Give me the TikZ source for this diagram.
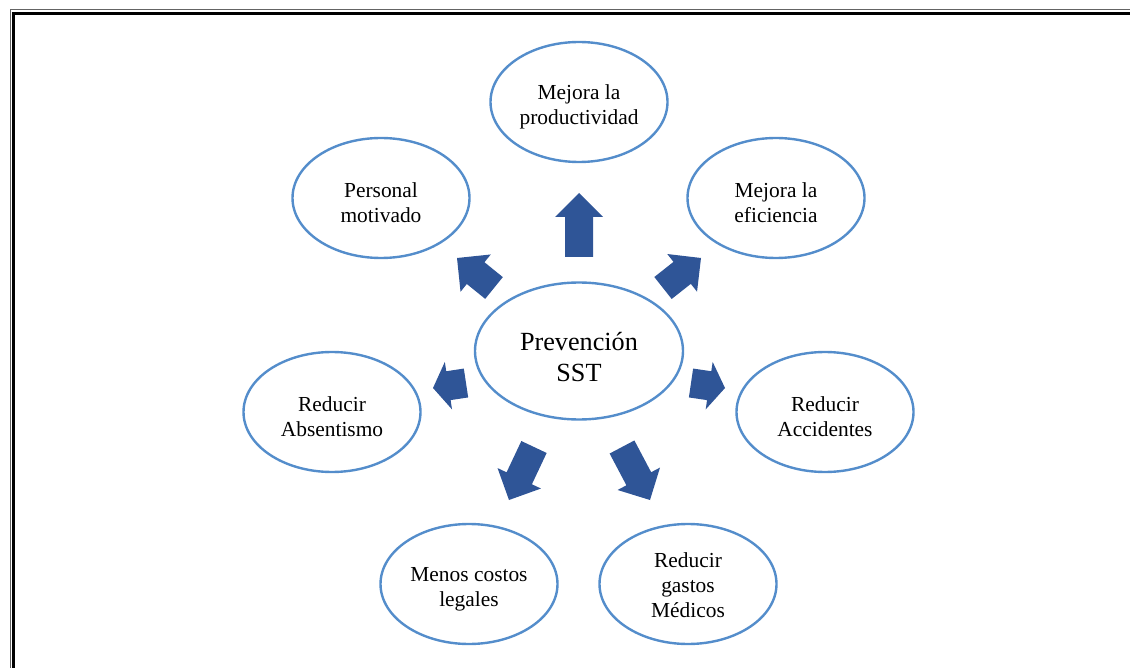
\documentclass[tikz,border=0pt]{standalone}
\usepackage{fontspec}
\setmainfont{Liberation Serif}
\usetikzlibrary{shapes.geometric,calc}
\definecolor{ringblue}{RGB}{84,141,203}
\definecolor{arrowblue}{RGB}{47,85,151}
\definecolor{framegray}{RGB}{100,100,100}
% block arrow: tail, tip, shaft half-width, head half-width, head length
\newcommand\blockarrow[5]{%
  \coordinate (hb) at ($(#2)!#5!(#1)$);
  \fill[arrowblue] ($(#1)!#3!90:(#2)$) -- ($(hb)!#3!-90:(#1)$) -- ($(hb)!#4!-90:(#1)$)
    -- (#2) -- ($(hb)!#4!90:(#1)$) -- ($(hb)!#3!90:(#1)$) -- ($(#1)!#3!-90:(#2)$) -- cycle;
}
\tikzset{
  ring/.style={ellipse, draw=ringblue, line width=1.2pt, inner sep=0pt,
    minimum width=88.5pt, minimum height=60pt},
  hub/.style={ring, minimum width=104pt, minimum height=68.5pt},
  txt/.style={inner sep=0pt, align=center, font=\fontsize{10.7}{12.5}\selectfont},
  hubtxt/.style={txt, font=\fontsize{13.1}{15.5}\selectfont}
}
\begin{document}
\begin{tikzpicture}[x=0.5pt, y=-0.5pt]
\useasboundingbox (0,0) rectangle (1130,668);
% double page frame
\draw[framegray, line width=0.5pt] (10,700) -- (10,10) -- (1160,10);
\draw[black, line width=1.5pt] (13.5,700) -- (13.5,13.5) -- (1160,13.5);

% ellipses
\node[hub] (c) at (579,351) {};
\node[ring] (prod) at (579,102) {};
\node[ring] (efic) at (776,198) {};
\node[ring] (moti) at (381,198) {};
\node[ring] (acci) at (825,412) {};
\node[ring] (abse) at (332,412) {};
\node[ring] (lega) at (469,584) {};
\node[ring] (medi) at (688,584) {};

% their texts
\node[hubtxt] (c-t) at ([yshift=-3pt]c.center) {Prevención\\SST};
\node[txt] (prod-t) at ([yshift=-2.5pt]prod.center) {Mejora la\\productividad};
\node[txt] (efic-t) at ([yshift=-2.5pt]efic.center) {Mejora la\\eficiencia};
\node[txt] (moti-t) at ([yshift=-2.5pt]moti.center) {Personal\\motivado};
\node[txt] (acci-t) at ([yshift=-2.5pt]acci.center) {Reducir\\Accidentes};
\node[txt] (abse-t) at ([yshift=-2.5pt]abse.center) {Reducir\\Absentismo};
\node[txt] (lega-t) at ([yshift=-2.5pt]lega.center) {Menos costos\\legales};
\node[txt] (medi-t) at ([yshift=-0.5pt]medi.center) {Reducir\\gastos\\Médicos};

% arrow ends
\coordinate (t1) at (579,257); \coordinate (h1) at (579,193);
\coordinate (t2) at (494,288); \coordinate (h2) at (457,258);
\coordinate (t3) at (663,288); \coordinate (h3) at (701,258);
\coordinate (t4) at (466,383); \coordinate (h4) at (433,388);
\coordinate (t5) at (691,383); \coordinate (h5) at (725,388);
\coordinate (t6) at (534,447); \coordinate (h6) at (509,500);
\coordinate (t7) at (622,447); \coordinate (h7) at (650,500);

\blockarrow{t1}{h1}{7pt}{12pt}{12pt}
\blockarrow{t2}{h2}{7pt}{12pt}{12pt}
\blockarrow{t3}{h3}{7pt}{12pt}{12pt}
\blockarrow{t4}{h4}{7.3pt}{12pt}{7.8pt}
\blockarrow{t5}{h5}{7.3pt}{12pt}{8pt}
\blockarrow{t6}{h6}{7pt}{12pt}{12pt}
\blockarrow{t7}{h7}{7pt}{12pt}{12pt}
\end{tikzpicture}
\end{document}
